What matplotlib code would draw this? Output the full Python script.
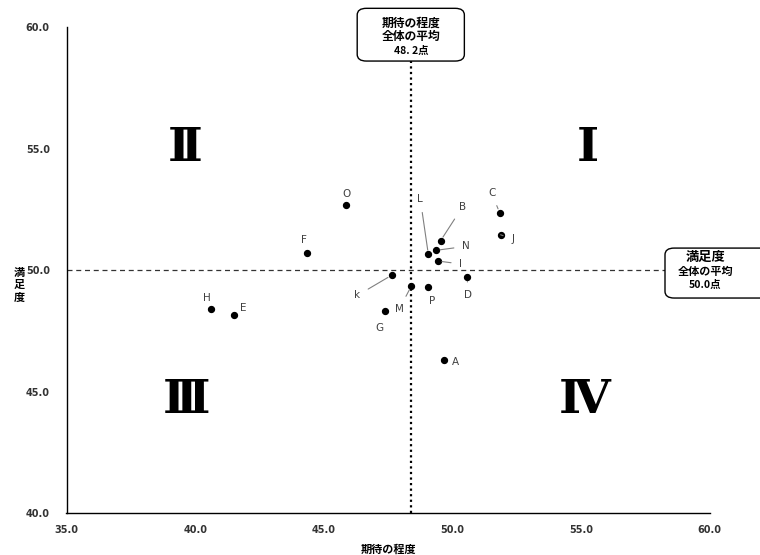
import matplotlib
matplotlib.use("Agg")
import matplotlib.pyplot as plt
from matplotlib.patches import FancyBboxPatch

plt.rcParams['font.family'] = ['Noto Sans CJK JP', 'DejaVu Sans']

# data
names = ['A', 'B', 'C', 'D', 'E', 'F', 'G', 'H', 'I', 'J', 'k', 'L', 'M', 'N', 'O', 'P']
expect = [49.68, 49.54, 51.83, 50.57, 41.51, 44.36, 47.37, 40.63,
          49.43, 51.87, 47.63, 49.06, 48.40, 49.36, 45.85, 49.06]
satisfy = [46.32, 51.22, 52.37, 49.71, 48.14, 50.70, 48.31, 48.40,
           50.38, 51.46, 49.79, 50.66, 49.35, 50.82, 52.68, 49.31]
x_ticks = [35, 40, 45, 50, 55, 60]
y_ticks = [40, 45, 50, 55, 60]
x_mean = 48.4
y_mean = 50.0

# label offsets in pixels, and whether a leader line is drawn
offsets = {
    'O': (1, 11, False), 'F': (-3, 13, False), 'H': (-5, 11, False),
    'E': (9, 7, False), 'C': (-8, 20, True), 'J': (12, -4, True),
    'B': (22, 34, True), 'L': (-8, 55, True), 'N': (30, 4, True),
    'I': (23, -3, True), 'D': (1, -18, True), 'k': (-34, -20, True),
    'M': (-12, -23, True), 'P': (4, -14, False), 'G': (-5, -17, False),
    'A': (11, -2, False),
}

fig = plt.figure(figsize=(7.6, 5.55), dpi=100)
ax = fig.add_axes([0.0875, 0.0757, 0.8465, 0.8748])

ax.set_xlim(35, 60)
ax.set_ylim(40, 60)
ax.spines['top'].set_visible(False)
ax.spines['right'].set_visible(False)
ax.spines['left'].set_linewidth(1.0)
ax.spines['bottom'].set_linewidth(1.0)
ax.set_xticks(x_ticks)
ax.set_yticks(y_ticks)
ax.set_xticklabels([f'{v:.1f}' for v in x_ticks], family='DejaVu Sans',
                   fontsize=7, fontweight='bold', color='#333333')
ax.set_yticklabels([f'{v:.1f}' for v in y_ticks], family='DejaVu Sans',
                   fontsize=7, fontweight='bold', color='#333333')
ax.tick_params(axis='y', length=0, pad=12)
ax.tick_params(axis='x', length=0, pad=9)

ax.axhline(y_mean, color='#333333', lw=0.9, ls=(0, (4, 3)), zorder=1)
ax.axvline(x_mean, color='black', lw=1.6, ls=(0, (1, 1.5)), zorder=1)

ax.scatter(expect, satisfy, s=18, color='black', zorder=3)

for n, x, y in zip(names, expect, satisfy):
    dx, dy, leader = offsets[n]
    ax.annotate(n, (x, y), xytext=(dx, dy), textcoords='offset pixels',
                ha='center', va='center', fontsize=7.5, color='#404040',
                family='DejaVu Sans',
                arrowprops=dict(arrowstyle='-', color='#808080', lw=0.8,
                                shrinkA=4, shrinkB=3) if leader else None,
                zorder=4)

# quadrant numerals
quads = [('Ⅰ', 0.81, 0.752), ('Ⅱ', 0.184, 0.752), ('Ⅲ', 0.187, 0.233), ('Ⅳ', 0.806, 0.233)]
for q, qx, qy in quads:
    ax.text(qx, qy, q, transform=ax.transAxes, ha='center', va='center',
            fontsize=34, fontweight='bold', family='DejaVu Serif', color='black')

ax.set_xlabel('期待の程度', fontsize=8, fontweight='bold', labelpad=5)
fig.text(0.025, 0.487, '満\n足\n度', ha='center', va='center', fontsize=8,
         fontweight='bold', linespacing=0.95)

# mean boxes
box1 = FancyBboxPatch((0.47, 0.890), 0.141, 0.095, transform=fig.transFigure,
                      boxstyle='round,pad=0,rounding_size=0.012',
                      fc='white', ec='black', lw=1.0, zorder=5)
fig.patches.append(box1)
fig.text(0.541, 0.958, '期待の程度', ha='center', va='center', fontsize=8.5, fontweight='bold', zorder=6)
fig.text(0.541, 0.935, '全体の平均', ha='center', va='center', fontsize=8.5, fontweight='bold', zorder=6)
fig.text(0.541, 0.909, '48. 2点', ha='center', va='center', fontsize=7.5, fontweight='bold', zorder=6)

box2 = FancyBboxPatch((0.875, 0.463), 0.16, 0.090, transform=fig.transFigure,
                      boxstyle='round,pad=0,rounding_size=0.012',
                      fc='white', ec='black', lw=1.0, zorder=5)
fig.patches.append(box2)
fig.text(0.928, 0.537, '満足度', ha='center', va='center', fontsize=9.5, fontweight='bold', zorder=6)
fig.text(0.928, 0.511, '全体の平均', ha='center', va='center', fontsize=8, fontweight='bold', zorder=6)
fig.text(0.928, 0.486, '50.0点', ha='center', va='center', fontsize=7.5, fontweight='bold', zorder=6)

fig.savefig('out.png', dpi=100)
